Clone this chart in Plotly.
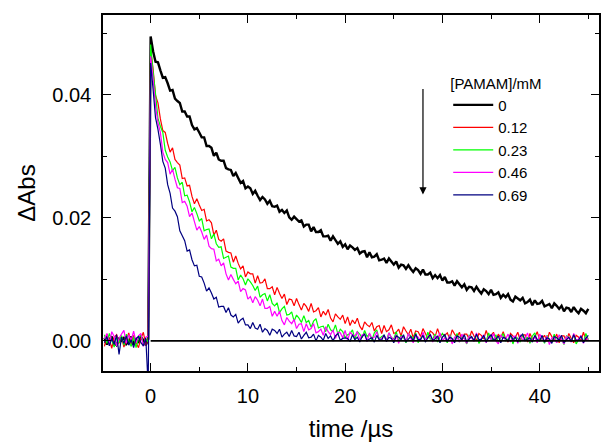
import numpy as np
import plotly.graph_objects as go

# time axis (µs), sampling grid of the transient traces
time_us = np.round(np.arange(-4.75, 45.001, 0.25), 2)

# concentrations (legend)
conc_labels = ["0", "0.12", "0.23", "0.46", "0.69"]
legend_title = "[PAMAM]/mM"

# ΔAbs values in units of 1e-4 (before and after the flash)
pre_black = [5, -6, 2, 7, -3, -7, 3, 0, 6, -5, -1, 7, -6, 3, -3, 6, 1, -7, 3]
post_black = [
    495,
    471, 454, 453, 440, 428, 429, 419, 407, 408, 394, 390, 387, 373, 373, 365, 365,
    351, 344, 346, 339, 331, 331, 317, 317, 314, 301, 306, 295, 293, 293, 281, 279,
    278, 268, 273, 265, 257, 260, 248, 251, 248, 239, 244, 236, 229, 234, 230, 223,
    228, 219, 218, 220, 210, 213, 208, 212, 201, 197, 202, 198, 194, 196, 186, 189,
    189, 178, 185, 177, 177, 180, 170, 170, 171, 163, 170, 164, 158, 162, 153, 157,
    149, 155, 152, 148, 151, 142, 145, 146, 136, 144, 136, 137, 141, 131, 132, 134,
    127, 134, 129, 124, 129, 119, 124, 123, 117, 123, 117, 112, 118, 115, 109, 116,
    108, 108, 111, 102, 107, 102, 107, 98, 104, 95, 95, 97, 90, 97, 92, 87,
    92, 83, 88, 87, 81, 88, 82, 77, 84, 81, 76, 83, 75, 76, 79, 70,
    75, 71, 76, 67, 64, 72, 69, 66, 70, 61, 63, 67, 58, 66, 60, 61,
    65, 56, 58, 60, 53, 61, 57, 52, 57, 48, 54, 53, 47, 55, 49, 45,
    52, 49, 45, 52]

pre_red = [-9, 11, 3, -12, 6, 10, -4, 7, -10, 2, 13, -6, 9, -3, -11, 4, 14, -7, 3]
post_red = [
    473,
    442, 399, 387, 361, 342, 339, 321, 307, 314, 295, 290, 286, 264, 265, 252, 253,
    235, 223, 231, 221, 212, 214, 195, 197, 192, 172, 180, 165, 162, 166, 146, 144,
    143, 128, 138, 126, 117, 122, 104, 112, 109, 109, 94, 106, 94, 95, 101, 85,
    85, 88, 75, 87, 77, 69, 76, 59, 68, 67, 57, 69, 59, 50, 61, 56,
    48, 61, 47, 49, 54, 39, 48, 42, 51, 37, 31, 44, 39, 35, 42, 28,
    39, 25, 34, 28, 37, 24, 18, 31, 26, 23, 30, 16, 23, 25, 12, 25,
    15, 18, 26, 12, 14, 19, 8, 23, 16, 10, 19, 5, 16, 15, 7, 20,
    12, 4, 16, 13, 7, 20, 8, 11, 9, 13, 3, 18, 11, 6, 14, 0,
    11, 11, 3, 16, 8, 0, 12, 9, 3, 17, 5, 8, 14, 1, 11, 5,
    15, 3, -2, 12, 8, 6, 14, 1, 9, 10, -2, 12, 3, 6, 15, 1,
    4, 9, -1, 14, 7, 2, 11, -3, 8, 8, 0, 12, 4, -3, 9, 6,
    0, 14, 2, 5]

pre_green = [10, -4, 12, 1, -10, 6, -3, 9, -7, 11, 0, -9, 7, -11, 4, 10, -6, 3, -2]
post_green = [
    482,
    437, 402, 362, 349, 339, 310, 299, 291, 277, 282, 265, 254, 258, 236, 237, 226,
    210, 217, 207, 195, 199, 179, 181, 182, 166, 174, 158, 152, 153, 134, 136, 138,
    120, 118, 118, 99, 107, 101, 91, 101, 96, 90, 82, 89, 71, 75, 77, 65,
    75, 61, 57, 62, 46, 52, 56, 42, 43, 47, 32, 42, 37, 30, 41, 30,
    33, 22, 32, 36, 21, 23, 24, 15, 27, 18, 15, 26, 11, 19, 15, 5,
    10, 12, 18, 3, 15, 11, 5, 17, 7, 11, 1, 13, 18, 3, 7, 9,
    1, 13, 5, 3, 15, 0, 9, 6, -3, 11, 8, 3, 13, -3, 4, 9,
    0, 14, 3, 3, 11, -2, 6, 12, 5, -3, 10, 2, 0, 12, -2, 7,
    4, -5, 9, 6, 1, 11, -4, 3, 8, -1, 13, 2, 2, 10, -3, 5,
    12, 0, 3, 9, -5, 7, 4, -2, 11, 1, 6, -4, 8, 13, -1, 2,
    4, -4, 9, 1, -1, 11, -3, 6, 3, -6, 8, 5, 0, 10, -5, 2,
    7, -2, 12, 1]

pre_magenta = [3, 12, -6, 15, 7, -8, 4, 11, 17, -4, 10, 1, 16, -3, 8, 12, -9, 6, 8]
post_magenta = [
    463,
    426, 382, 355, 339, 307, 295, 290, 271, 279, 263, 249, 248, 225, 227, 219, 202,
    208, 194, 180, 186, 177, 165, 172, 154, 150, 149, 130, 133, 122, 127, 109, 99,
    108, 100, 93, 97, 80, 85, 83, 68, 72, 62, 72, 66, 57, 68, 53, 53,
    56, 40, 48, 40, 48, 33, 26, 38, 32, 28, 35, 20, 27, 28, 15, 28,
    18, 20, 28, 13, 15, 19, 9, 23, 15, 10, 18, 4, 14, 13, 5, 17,
    1, 14, 10, 8, 15, 2, 10, 11, -1, 13, 4, 6, 15, 1, 4, 9,
    -1, 13, 6, 1, 10, -4, 7, 7, -1, 12, 4, -3, 9, 6, 0, 14,
    2, 5, 11, -2, 8, 3, 13, 0, 5, 0, 9, -5, 6, 6, -2, 11,
    3, -4, 8, 5, -1, 13, 1, 4, 10, -3, 7, 2, 12, 0, -5, 9,
    5, 3, 11, -2, 6, 8, -4, 10, 1, 4, 13, -1, 2, 7, -3, 11,
    4, -1, 8, -6, 5, 5, -3, 10, 2, -5, 7, 4, -2, 12, 0, 3,
    9, -4, 6, 1]

pre_blue = [-3, 7, -8, 4, -6, 10, -22, 6, -4, 8, -7, 2, -11, 4, 7, -3, -8, 5, -75]
post_blue = [
    452,
    409, 363, 344, 320, 292, 281, 254, 240, 216, 211, 202, 179, 171, 163, 146, 148,
    132, 122, 123, 105, 104, 94, 81, 86, 78, 68, 71, 55, 56, 56, 46, 54,
    42, 39, 43, 29, 34, 37, 26, 26, 20, 30, 21, 19, 27, 14, 20, 17,
    9, 19, 17, 12, 19, 6, 11, 14, 7, 17, 8, 7, 14, 3, 9, 14,
    5, 6, 11, 0, 9, 6, 1, 12, 4, 8, 0, 8, 12, 1, 4, 5,
    4, -1, 10, 2, 6, -2, 7, 11, 0, 3, 5, -2, 9, 2, 1, 10,
    -1, 6, 4, -3, 8, 6, 2, 10, -2, 3, 7, 0, 11, 2, 2, 9,
    -2, 5, 10, 1, 3, 8, -3, 6, 10, -1, 6, 4, -3, 8, 6, 2,
    10, -2, 3, 7, 0, 11, 2, 2, 9, -2, 5, 10, 1, 3, 8, -3,
    6, 4, -1, 10, 2, 6, -2, 7, 11, 0, 3, 5, -2, 9, 2, 0,
    9, -2, 5, 3, -4, 7, 5, 1, 9, -3, 2, 6, -1, 10, 1, 1,
    8, -3, 4, 9]

series = [
    (pre_black + post_black, "#000000", 2.4),
    (pre_red + post_red, "#FF0000", 1.2),
    (pre_green + post_green, "#00FF00", 1.2),
    (pre_magenta + post_magenta, "#FF00FF", 1.2),
    (pre_blue + post_blue, "#000080", 1.2),
]

x_range = [-4.9, 46.1]
y_range = [-0.0049, 0.0530]
FONT = "Liberation Sans, Arial, sans-serif"

fig = go.Figure()
for (vals, color, w), name in zip(series, conc_labels):
    fig.add_trace(go.Scatter(
        x=time_us, y=np.array(vals) * 1e-4, mode="lines", name=name,
        line=dict(color=color, width=w, simplify=False),
    ))

# baseline from time zero
fig.add_shape(type="line", xref="x", yref="y", x0=0, x1=x_range[1], y0=0, y1=0,
              line=dict(color="black", width=1.6))

# arrow indicating increasing concentration
fig.add_annotation(x=28.0, y=0.0238, ax=28.0, ay=0.0412, xref="x", yref="y",
                   axref="x", ayref="y", showarrow=True, arrowhead=2,
                   arrowsize=1.2, arrowwidth=1.2, arrowcolor="black", text="")

axis_common = dict(
    showline=True, linecolor="black", linewidth=1.5, mirror="allticks",
    ticks="inside", ticklen=8, tickwidth=1.3, tickcolor="black",
    showgrid=False, zeroline=False,
    tickfont=dict(family=FONT, size=20, color="black"),
)

fig.update_xaxes(range=x_range, dtick=10, tick0=0,
                 minor=dict(dtick=5, ticks="inside", ticklen=4, tickwidth=1.2, tickcolor="black", showgrid=False),
                 title=dict(text="time /µs", font=dict(family=FONT, size=24, color="black"), standoff=14),
                 ticklabelstandoff=6,
                 **axis_common)
fig.update_yaxes(range=y_range, dtick=0.02, tick0=0, tickformat=".2f",
                 minor=dict(dtick=0.01, ticks="inside", ticklen=4, tickwidth=1.2, tickcolor="black", showgrid=False),
                 title=dict(text="ΔAbs", font=dict(family=FONT, size=24, color="black"), standoff=10),
                 ticklabelstandoff=6,
                 **axis_common)

fig.update_layout(
    width=603, height=442,
    margin=dict(l=103, r=2, t=15, b=71),
    plot_bgcolor="white", paper_bgcolor="white",
    showlegend=True,
    legend=dict(
        x=0.696, y=0.848, xanchor="left", yanchor="top",
        bgcolor="rgba(0,0,0,0)", borderwidth=0, itemwidth=40,
        font=dict(family=FONT, size=15, color="black"),
        title=dict(text=legend_title, font=dict(family=FONT, size=15, color="black")),
        tracegroupgap=0,
    ),
)

fig.write_html("out.html")
